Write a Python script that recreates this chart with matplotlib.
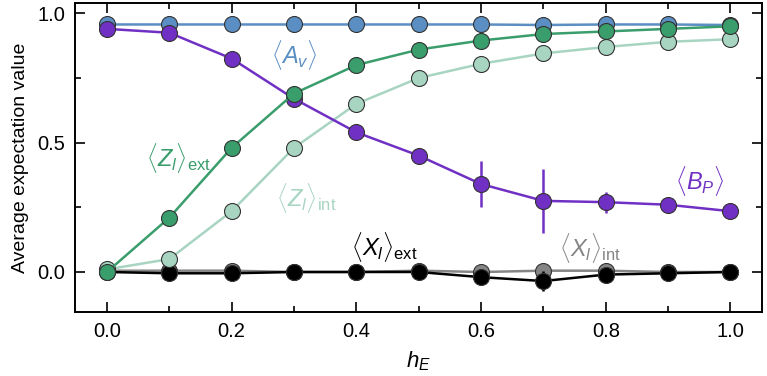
import matplotlib
matplotlib.use("Agg")
import matplotlib.pyplot as plt
from matplotlib.ticker import MultipleLocator

plt.rcParams['font.family'] = ['Liberation Sans', 'DejaVu Sans']
plt.rcParams['mathtext.fontset'] = 'custom'
plt.rcParams['mathtext.rm'] = 'Liberation Sans'
plt.rcParams['mathtext.it'] = 'Liberation Sans:italic'

h_e = [0.0, 0.1, 0.2, 0.3, 0.4, 0.5, 0.6, 0.7, 0.8, 0.9, 1.0]

a_v = [0.957, 0.957, 0.957, 0.957, 0.957, 0.957, 0.957, 0.955, 0.957, 0.957, 0.955]
z_ext = [0.0, 0.21, 0.48, 0.69, 0.80, 0.86, 0.895, 0.92, 0.93, 0.94, 0.95]
z_int = [0.01, 0.05, 0.235, 0.48, 0.65, 0.75, 0.805, 0.845, 0.87, 0.89, 0.90]
b_p = [0.94, 0.925, 0.825, 0.67, 0.54, 0.45, 0.34, 0.275, 0.27, 0.26, 0.235]
b_p_err = [0, 0, 0, 0, 0, 0, 0.09, 0.125, 0.04, 0, 0]
x_ext = [0.0, -0.005, -0.005, 0.0, 0.0, 0.0, -0.02, -0.035, -0.01, -0.005, 0.0]
x_ext_err = [0, 0, 0, 0, 0, 0, 0.03, 0.04, 0.01, 0, 0]
x_int = [0.005, 0.005, 0.005, 0.0, 0.0, 0.005, 0.0, 0.005, 0.005, 0.0, 0.0]
x_int_err = [0, 0, 0, 0, 0, 0, 0.01, 0.02, 0.01, 0, 0]

c_av = '#5b8ec2'
c_zext = '#3a9d6c'
c_zint = '#a8d4c2'
c_bp = '#7030c4'
c_xint = '#858585'

fig = plt.figure(figsize=(7.67, 3.76), dpi=100)
ax = fig.add_axes([0.098, 0.170, 0.895, 0.822])

mk = dict(marker='o', markersize=11.5, markeredgecolor='#333333', markeredgewidth=0.8,
          lw=1.8, elinewidth=1.8, capsize=0)

ax.errorbar(h_e, x_int, yerr=x_int_err, color=c_xint, zorder=2, **mk)
ax.errorbar(h_e, x_ext, yerr=x_ext_err, color='black', zorder=3, **mk)
ax.errorbar(h_e, a_v, color=c_av, zorder=4, **mk)
ax.errorbar(h_e, z_int, color=c_zint, zorder=5, **mk)
ax.errorbar(h_e, b_p, yerr=b_p_err, color=c_bp, zorder=6, **mk)
ax.errorbar(h_e, z_ext, color=c_zext, zorder=7, **mk)

fs = 17
ax.text(0.30, 0.84, r'$\langle A_v\rangle$', color=c_av, fontsize=fs, ha='center', va='center')
ax.text(0.115, 0.44, r'$\langle Z_l\rangle_{\rm ext}$', color=c_zext, fontsize=fs, ha='center', va='center')
ax.text(0.32, 0.285, r'$\langle Z_l\rangle_{\rm int}$', color=c_zint, fontsize=fs, ha='center', va='center')
ax.text(0.95, 0.35, r'$\langle B_P\rangle$', color=c_bp, fontsize=fs, ha='center', va='center')
ax.text(0.445, 0.097, r'$\langle X_l\rangle_{\rm ext}$', color='black', fontsize=fs, ha='center', va='center')
ax.text(0.775, 0.093, r'$\langle X_l\rangle_{\rm int}$', color=c_xint, fontsize=fs, ha='center', va='center')

ax.set_xlim(-0.051, 1.05)
ax.set_ylim(-0.155, 1.04)
ax.set_xticks([0.0, 0.2, 0.4, 0.6, 0.8, 1.0])
ax.set_yticks([0.0, 0.5, 1.0])
ax.xaxis.set_minor_locator(MultipleLocator(0.1))
ax.yaxis.set_minor_locator(MultipleLocator(0.25))
ax.tick_params(which='both', direction='in', top=True, right=True, labelsize=14.5, width=1.2, pad=7)
ax.tick_params(which='major', length=7)
ax.tick_params(which='minor', length=4.3)
for s in ax.spines.values():
    s.set_linewidth(1.4)

ax.set_xlabel(r'$h_E$', fontsize=16, labelpad=6)
ax.set_ylabel('Average expectation value', fontsize=14, labelpad=6)

fig.savefig('out.png', dpi=100)
